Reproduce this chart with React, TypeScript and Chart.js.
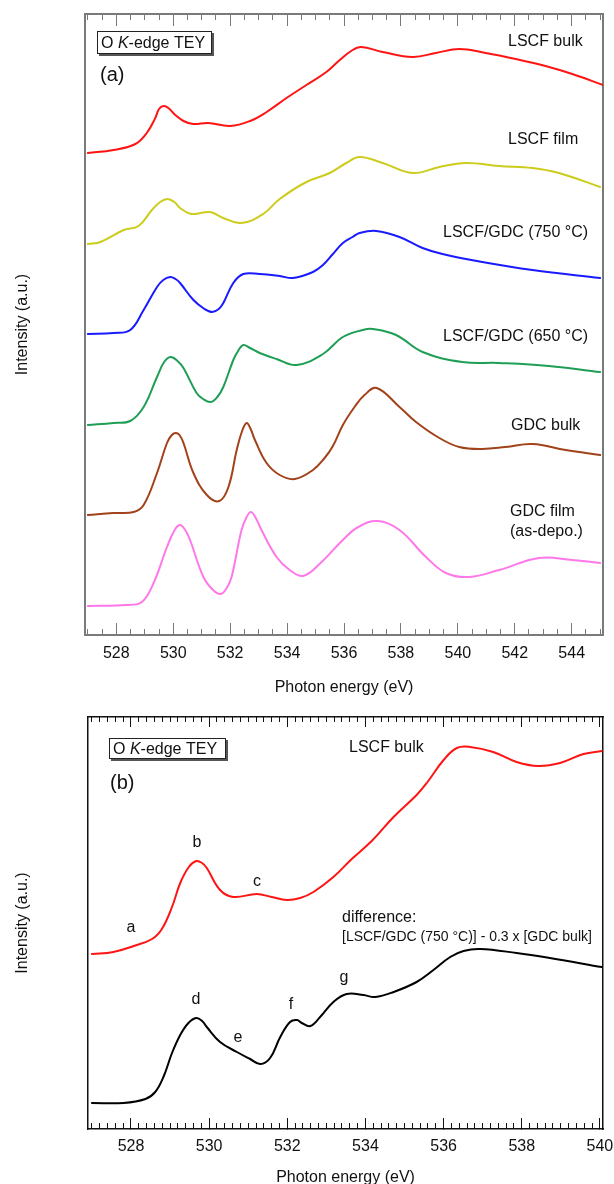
import React, { useEffect, useRef } from "react";
import { Chart, registerables } from "chart.js";

Chart.register(...registerables);

const FONT = "'Liberation Sans', Arial, Helvetica, sans-serif";

// ---------------- Panel (a) ----------------
const aXMin = 526.9;
const aXMax = 545.1;
const aYMax = 6.21;
const aMajorTicks = [528, 530, 532, 534, 536, 538, 540, 542, 544];

const lscfBulkE = [527.0, 527.9, 528.67, 529.07, 529.37, 529.5, 529.66, 529.83, 530.07, 530.36, 530.7, 531.23, 532.0, 532.7, 533.28, 533.98, 534.68, 535.38, 535.85, 536.25, 536.6, 537.36, 538.41, 539.23, 540.05, 540.98, 542.03, 543.08, 544.02, 545.1];
const lscfBulkI = [4.82, 4.85, 4.91, 5.02, 5.17, 5.26, 5.29, 5.27, 5.20, 5.14, 5.11, 5.12, 5.09, 5.14, 5.23, 5.37, 5.50, 5.63, 5.75, 5.84, 5.88, 5.83, 5.78, 5.82, 5.86, 5.82, 5.76, 5.69, 5.61, 5.50];

const lscfFilmE = [527.0, 527.44, 528.26, 528.78, 529.25, 529.54, 529.8, 530.04, 530.24, 530.65, 531.29, 531.76, 532.4, 533.16, 533.74, 534.68, 535.5, 536.08, 536.55, 537.36, 538.41, 539.35, 540.28, 541.45, 542.62, 543.55, 545.0];
const lscfFilmI = [3.91, 3.93, 4.05, 4.09, 4.25, 4.33, 4.36, 4.33, 4.27, 4.21, 4.23, 4.17, 4.12, 4.21, 4.36, 4.53, 4.62, 4.72, 4.78, 4.72, 4.62, 4.68, 4.72, 4.69, 4.67, 4.62, 4.48];

const gdc750E = [527.0, 527.9, 528.49, 528.96, 529.43, 529.65, 529.89, 530.08, 530.24, 530.71, 531.1, 531.37, 531.6, 531.76, 532.11, 532.46, 533.04, 533.74, 534.21, 534.91, 535.26, 535.61, 535.96, 536.3, 536.55, 537.13, 537.95, 538.76, 539.46, 540.86, 542.62, 545.0];
const gdc750I = [3.01, 3.02, 3.05, 3.25, 3.48, 3.55, 3.58, 3.56, 3.52, 3.35, 3.26, 3.23, 3.26, 3.32, 3.52, 3.61, 3.61, 3.59, 3.57, 3.63, 3.70, 3.81, 3.92, 3.98, 4.02, 4.04, 3.98, 3.87, 3.81, 3.73, 3.65, 3.57];

const gdc650E = [527.0, 527.9, 528.49, 528.96, 529.43, 529.68, 529.91, 530.15, 530.36, 530.82, 531.05, 531.32, 531.55, 531.76, 532.11, 532.3, 532.46, 532.7, 533.04, 533.63, 534.33, 535.26, 535.96, 536.66, 537.01, 537.83, 538.76, 540.16, 541.45, 543.2, 545.0];
const gdc650I = [2.10, 2.12, 2.14, 2.28, 2.58, 2.73, 2.78, 2.74, 2.67, 2.42, 2.36, 2.33, 2.38, 2.48, 2.75, 2.85, 2.90, 2.87, 2.82, 2.76, 2.70, 2.81, 2.98, 3.05, 3.06, 3.00, 2.83, 2.73, 2.72, 2.69, 2.63];

const gdcBulkE = [527.0, 527.9, 528.61, 528.96, 529.43, 529.78, 529.95, 530.09, 530.22, 530.36, 530.71, 531.18, 531.62, 531.94, 532.23, 532.42, 532.58, 532.72, 532.87, 533.28, 533.74, 534.27, 534.91, 535.32, 535.61, 535.96, 536.37, 536.72, 537.15, 537.95, 538.53, 539.35, 540.05, 540.86, 541.68, 542.62, 543.79, 545.0];
const gdcBulkI = [1.20, 1.22, 1.23, 1.30, 1.62, 1.92, 2.00, 2.02, 2.00, 1.92, 1.62, 1.40, 1.34, 1.48, 1.85, 2.04, 2.12, 2.06, 1.95, 1.72, 1.60, 1.56, 1.65, 1.77, 1.89, 2.10, 2.28, 2.40, 2.47, 2.28, 2.13, 1.97, 1.88, 1.86, 1.88, 1.91, 1.85, 1.80];

const gdcFilmE = [527.0, 528.37, 528.9, 529.31, 529.78, 530.05, 530.24, 530.42, 530.59, 531.06, 531.4, 531.67, 531.88, 532.05, 532.4, 532.58, 532.73, 532.9, 533.1, 533.63, 534.09, 534.56, 535.14, 535.96, 536.5, 537.19, 537.95, 538.88, 539.58, 540.4, 541.45, 542.85, 544.02, 545.0];
const gdcFilmI = [0.29, 0.30, 0.33, 0.52, 0.88, 1.05, 1.10, 1.05, 0.95, 0.58, 0.45, 0.41, 0.47, 0.58, 1.05, 1.18, 1.23, 1.17, 1.05, 0.78, 0.65, 0.59, 0.71, 0.95, 1.08, 1.14, 1.05, 0.78, 0.62, 0.58, 0.65, 0.77, 0.75, 0.72];

// ---------------- Panel (b) ----------------
const bXMin = 526.9;
const bXMax = 540.08;
const bYMax = 4.12;
const bMajorTicks = [528, 530, 532, 534, 536, 538, 540];

const bLscfBulkE = [527.0, 527.55, 528.07, 528.54, 528.79, 529.05, 529.26, 529.48, 529.67, 529.82, 529.94, 530.28, 530.62, 531.22, 531.6, 531.99, 532.33, 532.67, 533.18, 533.65, 534.16, 534.72, 535.31, 535.57, 536.0, 536.34, 536.68, 537.27, 537.87, 538.42, 538.98, 539.58, 540.05];
const bLscfBulkI = [1.75, 1.77, 1.83, 1.90, 2.00, 2.22, 2.46, 2.62, 2.68, 2.66, 2.61, 2.39, 2.32, 2.35, 2.32, 2.29, 2.31, 2.37, 2.52, 2.70, 2.88, 3.12, 3.34, 3.46, 3.69, 3.81, 3.82, 3.77, 3.67, 3.63, 3.66, 3.75, 3.78];

const diffE = [527.0, 527.81, 528.37, 528.62, 528.83, 529.05, 529.26, 529.47, 529.67, 529.82, 529.94, 530.28, 530.71, 531.05, 531.31, 531.56, 531.82, 532.07, 532.25, 532.37, 532.59, 532.84, 533.18, 533.52, 533.95, 534.25, 534.72, 535.31, 535.74, 536.17, 536.51, 536.93, 537.87, 538.72, 540.05];
const diffI = [0.26, 0.26, 0.30, 0.37, 0.52, 0.76, 0.94, 1.06, 1.11, 1.08, 1.02, 0.87, 0.77, 0.70, 0.65, 0.71, 0.92, 1.07, 1.09, 1.06, 1.03, 1.12, 1.27, 1.35, 1.34, 1.32, 1.37, 1.47, 1.59, 1.72, 1.78, 1.80, 1.76, 1.71, 1.62];

function minorTicks(start: number, step: number, count: number) {
  const out: number[] = [];
  for (let i = 0; i <= count; i++) out.push(Math.round((start + i * step) * 1000) / 1000);
  return out;
}
const aMinorTicks = minorTicks(527, 0.5, 36);
const bMinorTicks = minorTicks(527, 0.2, 65);

function pts(xs: number[], ys: number[]) {
  return xs.map((x, i) => ({ x, y: ys[i] }));
}

function line(label: string, xs: number[], ys: number[], color: string) {
  return {
    label,
    data: pts(xs, ys),
    borderColor: color,
    backgroundColor: color,
    borderWidth: 2,
    pointRadius: 0,
    fill: false,
    tension: 0.4,
    borderJoinStyle: "round" as const,
    borderCapStyle: "round" as const,
  };
}

type Note = { text: string; dx: number; dy: number; size?: number; align?: CanvasTextAlign; color?: string };
type Panel = {
  xMin: number; xMax: number; yMax: number;
  major: number[]; minor: number[];
  frame: string; frameWidth: number;
  majorLen: number; minorLen: number; topMajorLen: number; topMinorLen: number;
  axisH: number; leftW: number; padTop: number; padRight: number; tickPad: number;
  datasets: any[];
  box: { dx: number; dy: number; w: number; h: number };
  notes: Note[];
};

const panelA: Panel = {
  xMin: aXMin, xMax: aXMax, yMax: aYMax,
  major: aMajorTicks, minor: aMinorTicks,
  frame: "#7a7a7a", frameWidth: 2,
  majorLen: 12, minorLen: 6, topMajorLen: 12, topMinorLen: 6,
  axisH: 65, leftW: 85, padTop: 14, padRight: 11, tickPad: 21,
  datasets: [
    line("LSCF bulk", lscfBulkE, lscfBulkI, "#ff1414"),
    line("LSCF film", lscfFilmE, lscfFilmI, "#cccc1c"),
    line("LSCF/GDC (750 °C)", gdc750E, gdc750I, "#1a1aff"),
    line("LSCF/GDC (650 °C)", gdc650E, gdc650I, "#1f9e55"),
    line("GDC bulk", gdcBulkE, gdcBulkI, "#a2421a"),
    line("GDC film (as-depo.)", gdcFilmE, gdcFilmI, "#ff78ea"),
  ],
  box: { dx: 12, dy: 17, w: 115, h: 23 },
  notes: [
    { text: "(a)", dx: 15, dy: 61, size: 20 },
    { text: "LSCF bulk", dx: 423, dy: 28 },
    { text: "LSCF film", dx: 423, dy: 126 },
    { text: "LSCF/GDC (750 °C)", dx: 358, dy: 219 },
    { text: "LSCF/GDC (650 °C)", dx: 358, dy: 323 },
    { text: "GDC bulk", dx: 426, dy: 412 },
    { text: "GDC film", dx: 425, dy: 498 },
    { text: "(as-depo.)", dx: 425, dy: 518 },
  ],
};

const panelB: Panel = {
  xMin: bXMin, xMax: bXMax, yMax: bYMax,
  major: bMajorTicks, minor: bMinorTicks,
  frame: "#111111", frameWidth: 1.5,
  majorLen: 11, minorLen: 6, topMajorLen: 10, topMinorLen: 5,
  axisH: 61, leftW: 88, padTop: 17, padRight: 11, tickPad: 19,
  datasets: [
    line("LSCF bulk", bLscfBulkE, bLscfBulkI, "#ff1414"),
    line("difference", diffE, diffI, "#000000"),
  ],
  box: { dx: 21, dy: 21, w: 117, h: 21 },
  notes: [
    { text: "(b)", dx: 22, dy: 66, size: 20 },
    { text: "LSCF bulk", dx: 261, dy: 31 },
    { text: "a", dx: 43, dy: 211, align: "center" },
    { text: "b", dx: 109, dy: 126, align: "center" },
    { text: "c", dx: 169, dy: 165, align: "center" },
    { text: "difference:", dx: 254, dy: 201 },
    { text: "[LSCF/GDC (750 °C)] - 0.3 x [GDC bulk]", dx: 254, dy: 220, size: 14 },
    { text: "d", dx: 108, dy: 283, align: "center" },
    { text: "e", dx: 150, dy: 321, align: "center" },
    { text: "f", dx: 203, dy: 288, align: "center" },
    { text: "g", dx: 256, dy: 261, align: "center" },
  ],
};

function notesPlugin(p: Panel) {
  return {
    id: "notes",
    afterDraw(chart: any) {
      const ctx: CanvasRenderingContext2D = chart.ctx;
      const { left, top } = chart.chartArea;
      ctx.save();
      const bx = left + p.box.dx, by = top + p.box.dy;
      ctx.fillStyle = "#555";
      ctx.fillRect(bx + 2, by + 2, p.box.w, p.box.h);
      ctx.fillStyle = "#fff";
      ctx.fillRect(bx, by, p.box.w, p.box.h);
      ctx.strokeStyle = "#222";
      ctx.lineWidth = 1;
      ctx.strokeRect(bx + 0.5, by + 0.5, p.box.w - 1, p.box.h - 1);
      ctx.fillStyle = "#111";
      ctx.textBaseline = "middle";
      ctx.textAlign = "left";
      let tx = bx + 4;
      const ty = by + p.box.h / 2 + 1;
      ctx.font = `16px ${FONT}`;
      ctx.fillText("O ", tx, ty);
      tx += ctx.measureText("O ").width;
      ctx.font = `italic 16px ${FONT}`;
      ctx.fillText("K", tx, ty);
      tx += ctx.measureText("K").width;
      ctx.font = `16px ${FONT}`;
      ctx.fillText("-edge TEY", tx, ty);

      for (const n of p.notes) {
        ctx.font = `${n.size ?? 16}px ${FONT}`;
        ctx.textAlign = n.align ?? "left";
        ctx.fillStyle = n.color ?? "#111";
        ctx.fillText(n.text, left + n.dx, top + n.dy);
      }
      ctx.restore();
    },
  };
}

function makeConfig(p: Panel): any {
  const setTicks = (vals: number[]) => (s: any) => {
    s.ticks = vals.map((v) => ({ value: v }));
  };
  const hidden = { display: false };
  const tickGrid = (len: number) => ({
    display: true,
    drawOnChartArea: false,
    drawTicks: true,
    tickLength: -len,
    color: p.frame,
    lineWidth: 1,
  });
  const flat = (h: number) => (s: any) => {
    s.height = h;
    s.paddingLeft = 0;
    s.paddingRight = 0;
  };
  return {
    type: "line",
    data: { datasets: p.datasets },
    options: {
      responsive: false,
      animation: false,
      devicePixelRatio: 1,
      layout: { padding: { left: 0, top: p.padTop, right: p.padRight, bottom: 0 } },
      plugins: { legend: hidden, tooltip: { enabled: false } },
      scales: {
        x: {
          type: "linear",
          position: "bottom",
          weight: 10,
          min: p.xMin,
          max: p.xMax,
          afterBuildTicks: setTicks(p.major),
          afterFit: flat(p.axisH),
          ticks: { color: "#111", font: { size: 16, family: FONT }, padding: p.tickPad, autoSkip: false, maxRotation: 0 },
          grid: tickGrid(p.majorLen),
          border: { display: true, color: p.frame, width: p.frameWidth },
          title: { display: true, text: "Photon energy (eV)", color: "#111", font: { size: 16, family: FONT }, padding: { top: 0, bottom: 3 } },
        },
        xMinor: {
          type: "linear",
          position: "bottom",
          weight: 0,
          min: p.xMin,
          max: p.xMax,
          afterBuildTicks: setTicks(p.minor),
          afterFit: flat(0),
          ticks: { display: false, autoSkip: false },
          grid: tickGrid(p.minorLen),
          border: { display: false },
        },
        xTop: {
          type: "linear",
          position: "top",
          min: p.xMin,
          max: p.xMax,
          afterBuildTicks: setTicks(p.major),
          afterFit: flat(0),
          ticks: { display: false, autoSkip: false },
          grid: tickGrid(p.topMajorLen),
          border: { display: true, color: p.frame, width: p.frameWidth },
        },
        xTopMinor: {
          type: "linear",
          position: "top",
          min: p.xMin,
          max: p.xMax,
          afterBuildTicks: setTicks(p.minor),
          afterFit: flat(0),
          ticks: { display: false, autoSkip: false },
          grid: tickGrid(p.topMinorLen),
          border: { display: false },
        },
        y: {
          type: "linear",
          position: "left",
          min: 0,
          max: p.yMax,
          afterFit: (s: any) => { s.width = p.leftW; s.paddingTop = 0; s.paddingBottom = 0; },
          ticks: { display: false },
          grid: { display: false },
          border: { display: true, color: p.frame, width: p.frameWidth },
          title: { display: true, text: "Intensity (a.u.)", color: "#111", font: { size: 16, family: FONT }, padding: { top: 13, bottom: 0 } },
        },
        yRight: {
          type: "linear",
          position: "right",
          display: true,
          min: 0,
          max: p.yMax,
          afterFit: (s: any) => { s.width = 0; s.paddingTop = 0; s.paddingBottom = 0; },
          ticks: { display: false },
          grid: { display: false },
          border: { display: true, color: p.frame, width: p.frameWidth },
        },
      },
    },
    plugins: [notesPlugin(p)],
  };
}

export default function App() {
  const refA = useRef<HTMLCanvasElement>(null);
  const refB = useRef<HTMLCanvasElement>(null);
  useEffect(() => {
    const ca = new Chart(refA.current as HTMLCanvasElement, makeConfig(panelA));
    const cb = new Chart(refB.current as HTMLCanvasElement, makeConfig(panelB));
    return () => {
      ca.destroy();
      cb.destroy();
    };
  }, []);
  return (
    <div style={{ position: "absolute", left: 0, top: 0, width: 614, height: 1184, overflow: "hidden", background: "#fff" }}>
      <canvas ref={refA} width={614} height={700} style={{ position: "absolute", left: 0, top: 0, width: 614, height: 700 }} />
      <canvas ref={refB} width={614} height={490} style={{ position: "absolute", left: 0, top: 700, width: 614, height: 490 }} />
    </div>
  );
}
